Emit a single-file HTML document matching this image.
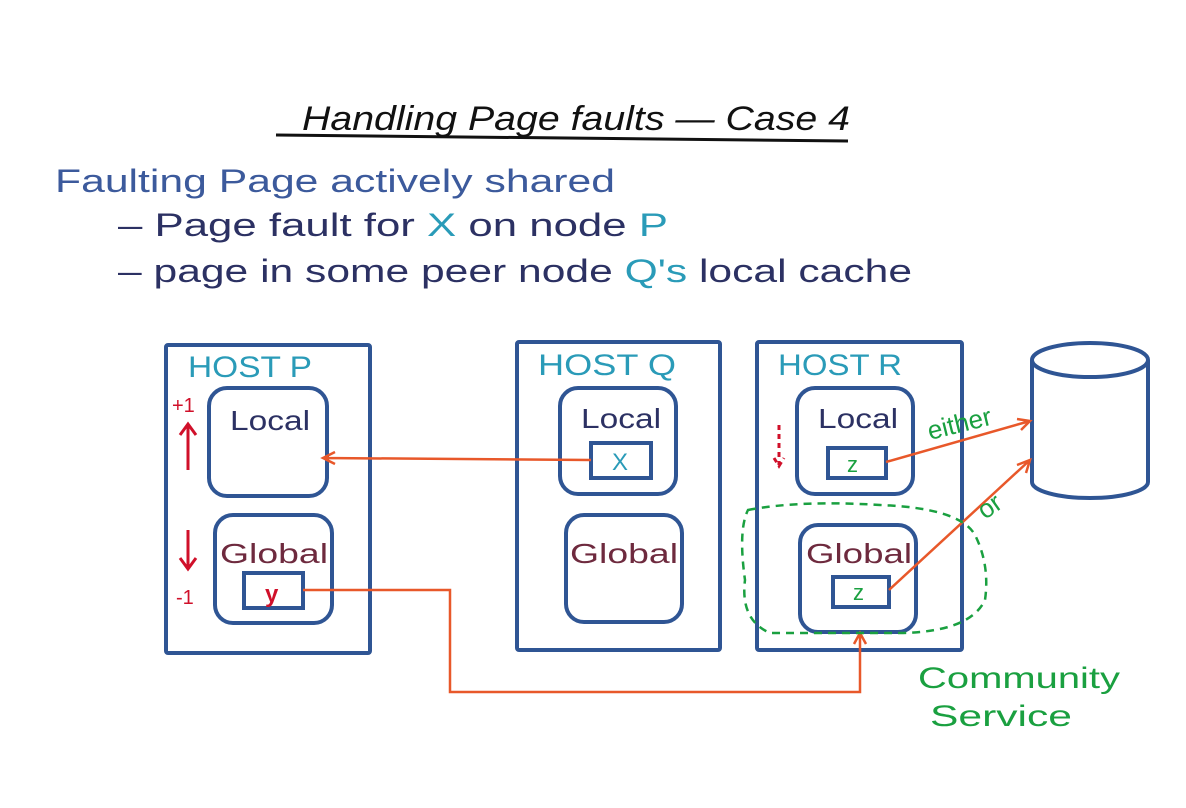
<!DOCTYPE html>
<html><head><meta charset="utf-8"><style>
html,body{margin:0;padding:0;background:#fff}
svg{display:block}
text{font-family:"Liberation Sans",sans-serif}
</style></head><body>
<svg width="1186" height="808" viewBox="0 0 1186 808" xmlns="http://www.w3.org/2000/svg">
<rect width="1186" height="808" fill="#fff"/>
<text x="302" y="130" font-size="34" fill="#111" font-style="italic" textLength="548" lengthAdjust="spacingAndGlyphs">Handling Page faults — Case 4</text>
<path d="M276 135 L848 141" stroke="#111" stroke-width="3" fill="none"/>
<text x="55" y="192" font-size="32" fill="#3c5a9c" textLength="560" lengthAdjust="spacingAndGlyphs">Faulting Page actively shared</text>
<text x="118" y="236" font-size="32" fill="#2c3163" textLength="550" lengthAdjust="spacingAndGlyphs">– Page fault for <tspan fill="#2a9bb8">X</tspan> on node <tspan fill="#2a9bb8">P</tspan></text>
<text x="118" y="282" font-size="32" fill="#2c3163" textLength="794" lengthAdjust="spacingAndGlyphs">– page in some peer node <tspan fill="#2a9bb8">Q's</tspan> local cache</text>
<g stroke="#2f5594" stroke-width="4" fill="none">
<rect x="166" y="345" width="204" height="308" rx="2"/>
<rect x="209" y="388" width="118" height="108" rx="18"/>
<rect x="215" y="515" width="117" height="108" rx="18"/>
<rect x="244" y="573" width="59" height="35"/>
<rect x="517" y="342" width="203" height="308" rx="2"/>
<rect x="560" y="388" width="116" height="106" rx="18"/>
<rect x="591" y="443" width="60" height="35"/>
<rect x="566" y="515" width="116" height="107" rx="18"/>
<rect x="757" y="342" width="205" height="308" rx="2"/>
<rect x="797" y="388" width="116" height="106" rx="18"/>
<rect x="828" y="448" width="58" height="30"/>
<rect x="800" y="525" width="116" height="107" rx="18"/>
<rect x="833" y="577" width="56" height="30"/>
<path d="M1032 360 L1032 482 A58 16 0 0 0 1148 482 L1148 360"/>
<ellipse cx="1090" cy="360" rx="58" ry="17"/>
</g>
<g font-size="30" fill="#2a9bb8">
<text x="188" y="377" textLength="124" lengthAdjust="spacingAndGlyphs">HOST P</text>
<text x="538" y="375" textLength="138" lengthAdjust="spacingAndGlyphs">HOST Q</text>
<text x="778" y="375" textLength="124" lengthAdjust="spacingAndGlyphs">HOST R</text>
</g>
<g font-size="28" fill="#2c3163">
<text x="230" y="430" textLength="80" lengthAdjust="spacingAndGlyphs">Local</text>
<text x="581" y="428" textLength="80" lengthAdjust="spacingAndGlyphs">Local</text>
<text x="818" y="428" textLength="80" lengthAdjust="spacingAndGlyphs">Local</text>
</g>
<g font-size="28" fill="#6e2a3e">
<text x="220" y="563" textLength="108" lengthAdjust="spacingAndGlyphs">Global</text>
<text x="570" y="563" textLength="108" lengthAdjust="spacingAndGlyphs">Global</text>
<text x="806" y="563" textLength="106" lengthAdjust="spacingAndGlyphs">Global</text>
</g>
<text x="612" y="470" font-size="24" fill="#2a9bb8">X</text>
<text x="265" y="602" font-size="24" fill="#d0102a" font-weight="bold">y</text>
<text x="847" y="472" font-size="22" fill="#1aa040">z</text>
<text x="853" y="600" font-size="22" fill="#1aa040">z</text>
<g fill="#d0102a" font-size="20">
<text x="172" y="412">+1</text>
<text x="176" y="604">-1</text>
</g>
<g stroke="#d0102a" stroke-width="3" fill="none">
<path d="M188 470 V425 M180 435 L188 424 L196 435"/>
<path d="M188 530 V568 M180 558 L188 569 L196 558"/>
<path d="M779 425 V465 M774 458 L779 466 L784 458" stroke-dasharray="5 4"/>
</g>
<g stroke="#e8582a" stroke-width="2.5" fill="none">
<path d="M591 460 L323 458 M335 452 L323 458 L335 464"/>
<path d="M303 590 L450 590 L450 692 L860 692 L860 633 M854 644 L860 633 L866 644"/>
<path d="M886 462 L1030 421 M1017 419 L1030 421 L1021 430"/>
<path d="M889 590 L1030 460 M1017 465 L1030 460 L1026 473"/>
</g>
<text x="930" y="440" font-size="26" fill="#1aa040" transform="rotate(-14 930 440)">either</text>
<text x="985" y="520" font-size="26" fill="#1aa040" transform="rotate(-35 985 520)">or</text>
<path d="M748 510 Q800 500 880 505 Q960 508 975 535 Q990 565 985 600 Q970 632 900 633 L770 633 Q740 620 745 580 Q738 530 748 510 Z" stroke="#1aa040" stroke-width="2.5" stroke-dasharray="8 6" fill="none"/>
<text x="918" y="688" font-size="30" fill="#1aa040" textLength="202" lengthAdjust="spacingAndGlyphs">Community</text>
<text x="930" y="726" font-size="30" fill="#1aa040" textLength="142" lengthAdjust="spacingAndGlyphs">Service</text>
</svg>
</body></html>
